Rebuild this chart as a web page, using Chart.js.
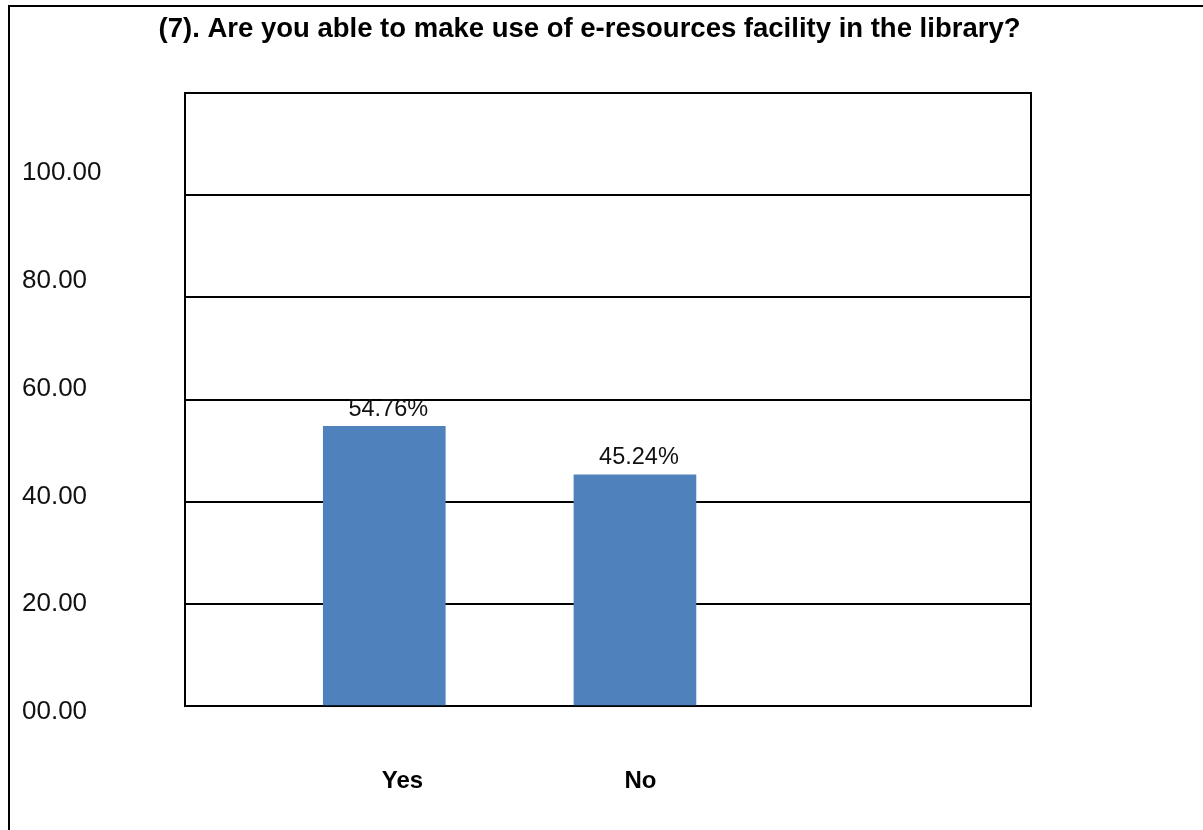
<!DOCTYPE html>
<html>
<head>
<meta charset="utf-8">
<title>E-resources facility in the library</title>
<script src="https://cdn.jsdelivr.net/npm/chart.js@4.4.1/dist/chart.umd.min.js"></script>
<style>
  html, body { margin: 0; padding: 0; background: #fff; overflow: hidden; }
  .frame {
    position: absolute; left: 8px; top: 5px; width: 1300px; height: 900px;
    border-left: 2px solid #000; border-top: 2px solid #000;
  }
  .chart-box { position: absolute; left: 0; top: 0; width: 1203px; height: 830px; }
</style>
</head>
<body>
<div class="frame"></div>
<div class="chart-box"><canvas id="chart"></canvas></div>
<script>
const titleText = "(7). Are you able to make use of e-resources facility in the library?";
const categories = ["Yes", "No"];
const percentages = [54.76, 45.24];
const yTickLabels = ["00.00", "20.00", "40.00", "60.00", "80.00", "100.00"];
const yTickValues = [0, 20, 40, 60, 80, 100];

const FONT = "'Liberation Sans', Arial, sans-serif";
const BAR_BLUE = "#4F81BD";

// box round the plot area, drawn under the bars
const plotFrame = {
  id: "plotFrame",
  beforeDatasetsDraw(chart) {
    const { ctx, chartArea: a } = chart;
    ctx.save();
    ctx.strokeStyle = "#000";
    ctx.lineWidth = 2;
    ctx.strokeRect(a.left, a.top, a.right - a.left, a.bottom - a.top);
    ctx.restore();
  },
};

// percentage labels above each bar
const barLabels = {
  id: "barLabels",
  beforeDatasetsDraw(chart) {
    const ctx = chart.ctx;
    const meta = chart.getDatasetMeta(0);
    ctx.save();
    ctx.font = "23.5px " + FONT;
    ctx.fillStyle = "#111";
    ctx.textAlign = "center";
    ctx.textBaseline = "middle";
    meta.data.forEach((bar, i) => {
      ctx.fillText(percentages[i].toFixed(2) + "%", bar.x + 4, bar.y - 17);
    });
    ctx.restore();
  },
};

new Chart(document.getElementById("chart"), {
  type: "bar",
  data: {
    datasets: [
      {
        data: categories.map((c, i) => ({ x: i + 1, y: percentages[i] })),
        backgroundColor: BAR_BLUE,
        borderWidth: 0,
        barThickness: 122,
        yAxisID: "y",
        xAxisID: "x",
      },
    ],
  },
  options: {
    responsive: true,
    maintainAspectRatio: false,
    animation: false,
    layout: { padding: { left: 22, right: 46, top: 0, bottom: 0 } },
    plugins: {
      legend: { display: false },
      tooltip: { enabled: false },
      title: {
        display: true,
        text: titleText,
        color: "#000",
        font: { family: FONT, size: 27.5, weight: "bold" },
        padding: { top: 13, bottom: 47 },
      },
    },
    scales: {
      x: {
        type: "linear",
        position: "bottom",
        offset: false,
        min: 0.205,
        max: 3.58,
        grid: { display: false, offset: false },
        border: { display: false },
        ticks: { display: false },
        afterFit: (s) => {
          s.height = 0;
        },
      },
      // category names sit a little right of the bars in the original
      xl: {
        type: "linear",
        position: "bottom",
        offset: false,
        min: 0.086,
        max: 3.641,
        grid: { display: false, offset: false },
        border: { display: false },
        afterBuildTicks: (s) => {
          s.ticks = categories.map((c, i) => ({ value: i + 1 }));
        },
        afterFit: (s) => {
          s.height = 124;
        },
        ticks: {
          autoSkip: false,
          padding: 53,
          color: "#000",
          font: { family: FONT, size: 24, weight: "bold" },
          callback: (v) => categories[Math.round(v) - 1],
        },
      },
      y: {
        position: "left",
        min: 0,
        max: 120,
        grid: { color: "#000", lineWidth: 2, drawTicks: false },
        border: { display: false },
        ticks: { stepSize: 20, display: false },
        afterFit: (s) => {
          s.width = 0;
        },
      },
      // the value labels of the original sit on a slightly different spacing than the grid
      yl: {
        type: "linear",
        position: "left",
        min: 1.11,
        max: 114.84,
        grid: { display: false },
        border: { display: false },
        afterBuildTicks: (s) => {
          s.ticks = yTickValues.map((v) => ({ value: v }));
        },
        ticks: {
          crossAlign: "far",
          color: "#111",
          font: { family: FONT, size: 26 },
          callback: (v, i) => yTickLabels[i],
        },
        afterFit: (s) => {
          s.width = 163;
        },
      },
      yr: {
        type: "linear",
        position: "right",
        grid: { display: false },
        border: { display: false },
        ticks: { display: false },
        afterFit: (s) => {
          s.width = 126;
        },
      },
    },
  },
  plugins: [plotFrame, barLabels],
});
</script>
</body>
</html>
